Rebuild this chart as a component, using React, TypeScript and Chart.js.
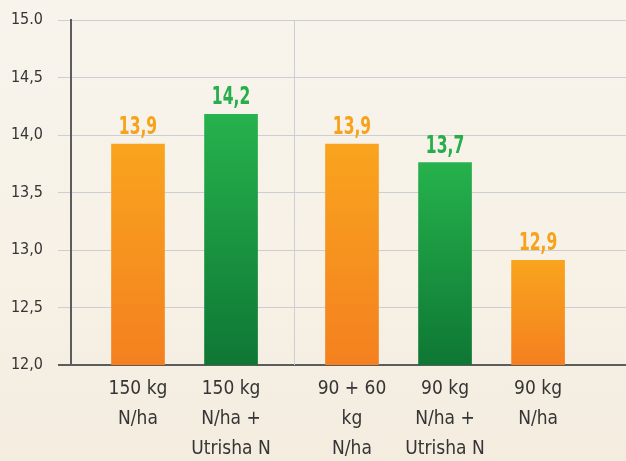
import React, { useEffect, useRef } from "react";
import { Chart, registerables } from "chart.js";

Chart.register(...registerables);

// ---- Data ----
const categories: string[][] = [
  ["150 kg", "N/ha"],
  ["150 kg", "N/ha +", "Utrisha N"],
  ["90 + 60", "kg", "N/ha"],
  ["90 kg", "N/ha +", "Utrisha N"],
  ["90 kg", "N/ha"],
];
const groups: number[] = [0, 0, 1, 1, 1];
const treatment: string[] = ["standard", "utrisha", "standard", "utrisha", "standard"];
const values: number[] = [13.92, 14.18, 13.92, 13.76, 12.91];
const valueLabels: string[] = ["13,9", "14,2", "13,9", "13,7", "12,9"];
const yTicks: number[] = [12.0, 12.5, 13.0, 13.5, 14.0, 14.5, 15.0];
const yTickLabels: string[] = ["12,0", "12,5", "13,0", "13,5", "14,0", "14,5", "15.0"];

// ---- Styles ----
const GROUP_GAP = 0.3;
const FONT = "'DejaVu Sans Condensed', 'DejaVu Sans', sans-serif";
const colors: Record<string, { top: string; bottom: string; label: string }> = {
  standard: { top: "#f9a41e", bottom: "#f4801f", label: "#f7a21b" },
  utrisha: { top: "#26b24c", bottom: "#0e7734", label: "#25ae4b" },
};
const GRID = "#cdced3";
const AXIS = "#5c5c5c";

const positions = values.map((_, i) => i + groups[i] * GROUP_GAP);

export default function App() {
  const ref = useRef<HTMLCanvasElement | null>(null);

  useEffect(() => {
    if (!ref.current) return;

    const dividerPlugin = {
      id: "divider",
      beforeDatasetsDraw(chart: any) {
        const { ctx, chartArea, scales } = chart;
        const x = Math.round(scales.x.getPixelForValue(1.68)) + 0.5;
        ctx.save();
        ctx.strokeStyle = GRID;
        ctx.lineWidth = 1;
        ctx.beginPath();
        ctx.moveTo(x, chartArea.top);
        ctx.lineTo(x, chartArea.bottom);
        ctx.stroke();
        ctx.restore();
      },
    };

    const labelPlugin = {
      id: "valueLabels",
      afterDatasetsDraw(chart: any) {
        const { ctx } = chart;
        const meta = chart.getDatasetMeta(0);
        ctx.save();
        ctx.font = `bold 24px ${FONT}`;
        ctx.textAlign = "center";
        ctx.textBaseline = "alphabetic";
        meta.data.forEach((bar: any, i: number) => {
          ctx.save();
          ctx.translate(bar.x, bar.y - 10);
          ctx.scale(0.72, 1);
          ctx.fillStyle = colors[treatment[i]].label;
          ctx.fillText(valueLabels[i], 0, 0);
          ctx.restore();
        });
        ctx.restore();
      },
    };

    const chart = new Chart(ref.current, {
      type: "bar",
      data: {
        datasets: [
          {
            data: values.map((v, i) => ({ x: positions[i], y: v })),
            barThickness: 53,
            backgroundColor: (ctx: any) => {
              const chart = ctx.chart;
              const i = ctx.dataIndex;
              const c = colors[treatment[i] ?? "standard"];
              const { chartArea, scales } = chart;
              if (!chartArea || !scales.y || i === undefined) return c.top;
              const top = scales.y.getPixelForValue(values[i]);
              const bottom = scales.y.getPixelForValue(scales.y.min);
              const g = chart.ctx.createLinearGradient(0, top, 0, bottom);
              g.addColorStop(0, c.top);
              g.addColorStop(1, c.bottom);
              return g;
            },
            borderWidth: 0,
          },
        ],
      },
      options: {
        responsive: false,
        animation: false,
        layout: { padding: { top: 20, left: 0, right: 0, bottom: 0 } },
        plugins: {
          legend: { display: false },
          tooltip: { enabled: false },
        },
        scales: {
          x: {
            type: "linear",
            offset: false,
            min: -0.72,
            max: 5.245,
            grid: { display: false, drawTicks: false },
            border: { display: false },
            afterBuildTicks: (axis: any) => {
              axis.ticks = positions.map((p) => ({ value: p }));
            },
            afterFit: (axis: any) => {
              axis.height = 96;
              axis.paddingLeft = 0;
              axis.paddingRight = 0;
            },
            ticks: {
              autoSkip: false,
              maxRotation: 0,
              minRotation: 0,
              padding: 9,
              color: "#353535",
              font: { family: FONT, size: 19, lineHeight: "30px" },
              callback: (_v: any, index: number) => categories[index],
            },
          },
          y: {
            min: 12,
            max: 15,
            afterBuildTicks: (axis: any) => {
              axis.ticks = yTicks.map((v) => ({ value: v }));
            },
            afterFit: (axis: any) => {
              axis.width = 71;
              axis.paddingTop = 0;
              axis.paddingBottom = 0;
            },
            grid: {
              color: (ctx: any) => (ctx.tick && ctx.tick.value === 12 ? AXIS : GRID),
              tickColor: (ctx: any) => (ctx.tick && ctx.tick.value === 12 ? AXIS : GRID),
              lineWidth: (ctx: any) => (ctx.tick && ctx.tick.value === 12 ? 2 : 1),
              tickLength: 13,
              drawTicks: true,
            },
            border: { display: true, color: AXIS, width: 2 },
            ticks: {
              padding: 15,
              color: "#353535",
              font: { family: FONT, size: 16 },
              callback: (v: any) => {
                const idx = yTicks.findIndex((t) => Math.abs(t - Number(v)) < 1e-9);
                return idx >= 0 ? yTickLabels[idx] : "";
              },
            },
          },
        },
      },
      plugins: [dividerPlugin, labelPlugin],
    } as any);

    return () => chart.destroy();
  }, []);

  return (
    <div
      style={{
        position: "fixed",
        left: 0,
        top: 0,
        width: 626,
        height: 461,
        background: "linear-gradient(180deg, #f8f4ec 0%, #f7f1e6 60%, #f3ecdf 100%)",
      }}
    >
      <canvas ref={ref} width={626} height={461} style={{ display: "block" }} />
    </div>
  );
}
